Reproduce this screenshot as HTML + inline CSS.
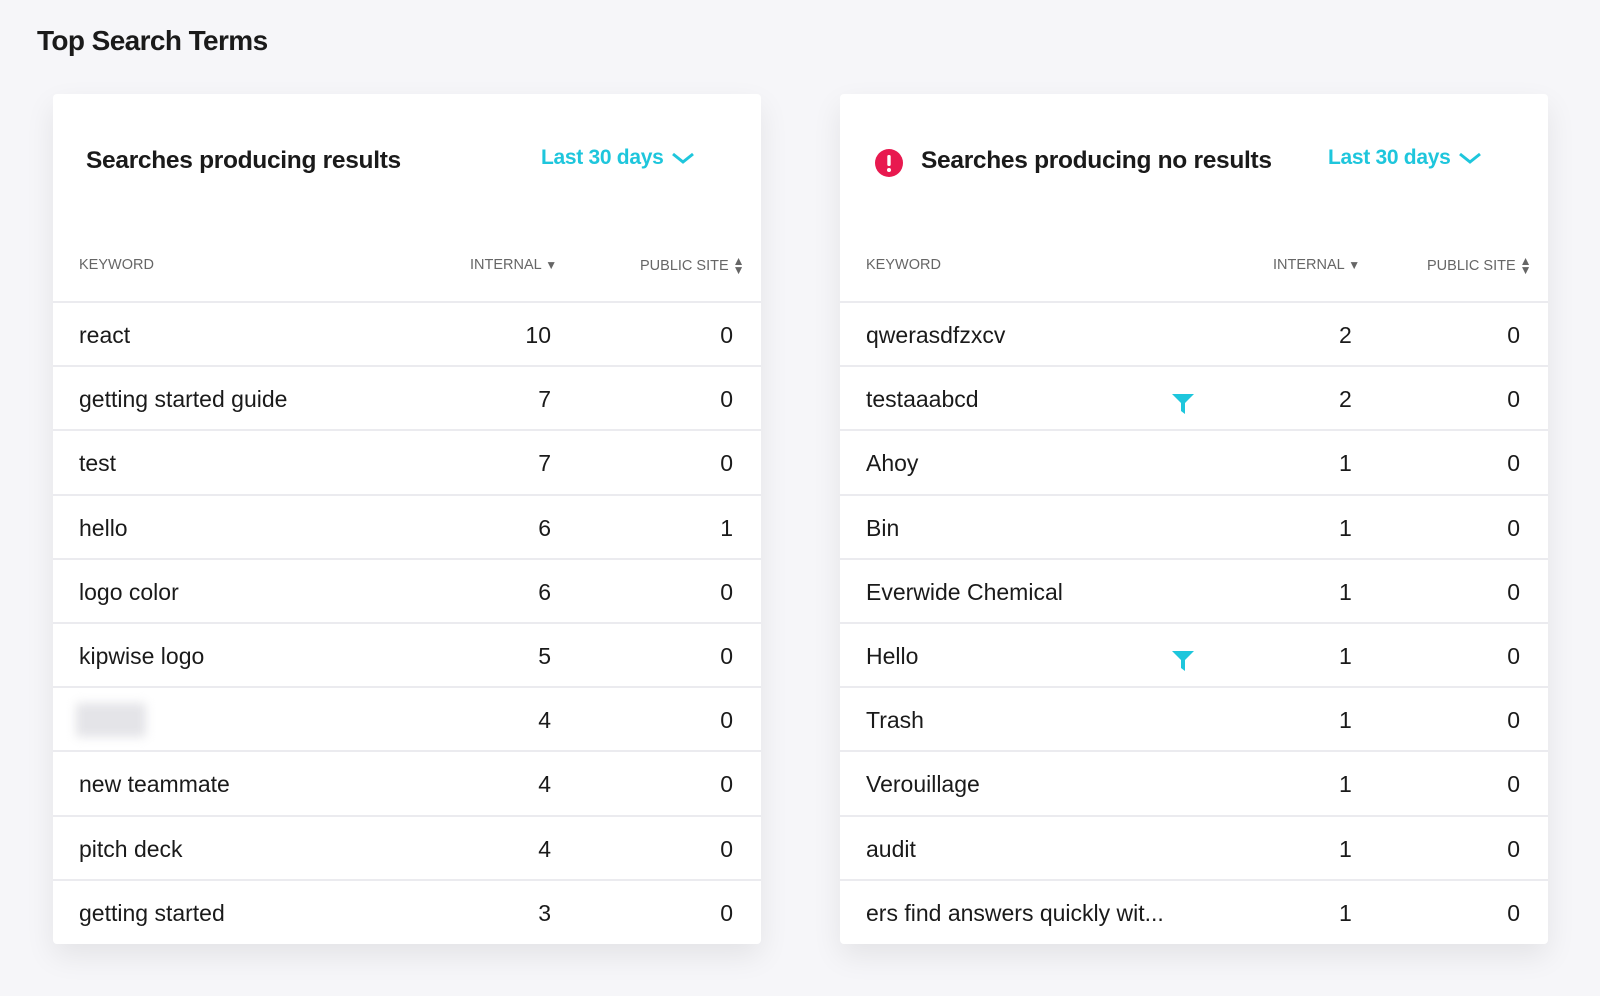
<!DOCTYPE html>
<html><head><style>
body{margin:0;width:1600px;height:996px;background:#f6f6f9;font-family:"Liberation Sans",sans-serif;position:relative;overflow:hidden;color:#1a1a1a}
.h1{position:absolute;left:37px;top:25px;font-size:28px;font-weight:bold;letter-spacing:-0.6px}
.card{position:absolute;top:94px;width:708px;height:850px;background:#fff;border-radius:4px;box-shadow:0 12px 30px rgba(0,0,0,0.08)}
.title{position:absolute;top:147px;font-size:24.5px;font-weight:bold;letter-spacing:-0.3px}
.range{position:absolute;top:146px;font-size:21px;color:#1ec6dc;font-weight:bold;letter-spacing:-0.3px}
.range svg{vertical-align:middle;margin-left:8px}
.ch{position:absolute;top:257px;font-size:14.5px;color:#666;letter-spacing:0px}
.line{position:absolute;height:2px;background:#ebebef}
.cell{position:absolute;font-size:23px;line-height:28px}
.r{text-align:right}
.ar{font-size:12px;color:#666}
</style></head><body>
<div class="h1">Top Search Terms</div>
<div class="card" style="left:53px"></div>
<div class="card" style="left:840px"></div>

<div class="title" style="left:86px">Searches producing results</div>
<div class="range" style="left:541px">Last 30 days<svg width="24" height="13"><path d="M2 2 L12 10 L22 2" stroke="#1ec6dc" stroke-width="3" fill="none"/></svg></div>
<svg style="position:absolute;left:875px;top:149px" width="28" height="28"><circle cx="14" cy="14" r="14" fill="#e8194f"/><rect x="12.3" y="6" width="3.4" height="11" rx="1.5" fill="#fff"/><circle cx="14" cy="21" r="2" fill="#fff"/></svg>
<div class="title" style="left:921px">Searches producing no results</div>
<div class="range" style="left:1328px">Last 30 days<svg width="24" height="13"><path d="M2 2 L12 10 L22 2" stroke="#1ec6dc" stroke-width="3" fill="none"/></svg></div>

<div class="ch" style="left:79px">KEYWORD</div>
<div class="ch" style="left:470px">INTERNAL <span class="ar">&#9660;</span></div>
<div class="ch" style="left:640px">PUBLIC SITE <span style="font-size:12px;display:inline-block;line-height:9px;vertical-align:middle;color:#666">&#9650;<br>&#9660;</span></div>
<div class="ch" style="left:866px">KEYWORD</div>
<div class="ch" style="left:1273px">INTERNAL <span class="ar">&#9660;</span></div>
<div class="ch" style="left:1427px">PUBLIC SITE <span style="font-size:12px;display:inline-block;line-height:9px;vertical-align:middle;color:#666">&#9650;<br>&#9660;</span></div>

<div id="rows"></div>
<script>
var L=[["react",10,0],["getting started guide",7,0],["test",7,0],["hello",6,1],["logo color",6,0],["kipwise logo",5,0],["",4,0],["new teammate",4,0],["pitch deck",4,0],["getting started",3,0]];
var R=[["qwerasdfzxcv",2,0,0],["testaaabcd",2,0,1],["Ahoy",1,0],["Bin",1,0],["Everwide Chemical",1,0],["Hello",1,0,1],["Trash",1,0],["Verouillage",1,0],["audit",1,0],["ers find answers quickly wit...",1,0]];
var h="";
for(var i=0;i<10;i++){
 var y=302+i*64.2;
 h+='<div class="line" style="left:53px;width:708px;top:'+(y-1)+'px"></div>';
 h+='<div class="line" style="left:840px;width:708px;top:'+(y-1)+'px"></div>';
 var ty=y+19;
 var a=L[i];
 if(a[0]) h+='<div class="cell" style="left:79px;top:'+ty+'px">'+a[0]+'</div>';
 else h+='<div style="position:absolute;left:76px;top:'+(y+16)+'px;width:70px;height:34px;background:#e4e4e8;filter:blur(5px)"></div>';
 h+='<div class="cell r" style="left:451px;width:100px;top:'+ty+'px">'+a[1]+'</div>';
 h+='<div class="cell r" style="left:633px;width:100px;top:'+ty+'px">'+a[2]+'</div>';
 var b=R[i];
 h+='<div class="cell" style="left:866px;top:'+ty+'px">'+b[0]+'</div>';
 h+='<div class="cell" style="left:1339px;top:'+ty+'px">'+b[1]+'</div>';
 h+='<div class="cell r" style="left:1420px;width:100px;top:'+ty+'px">'+b[2]+'</div>';
 if(b[3]) h+='<svg style="position:absolute;left:1172px;top:'+(y+28)+'px" width="22" height="20"><path d="M0 0 H22 L13 9 V20 L9 17 V9 Z" fill="#1ec6dc"/></svg>';
}
document.getElementById("rows").innerHTML=h;
</script>
</body></html>
